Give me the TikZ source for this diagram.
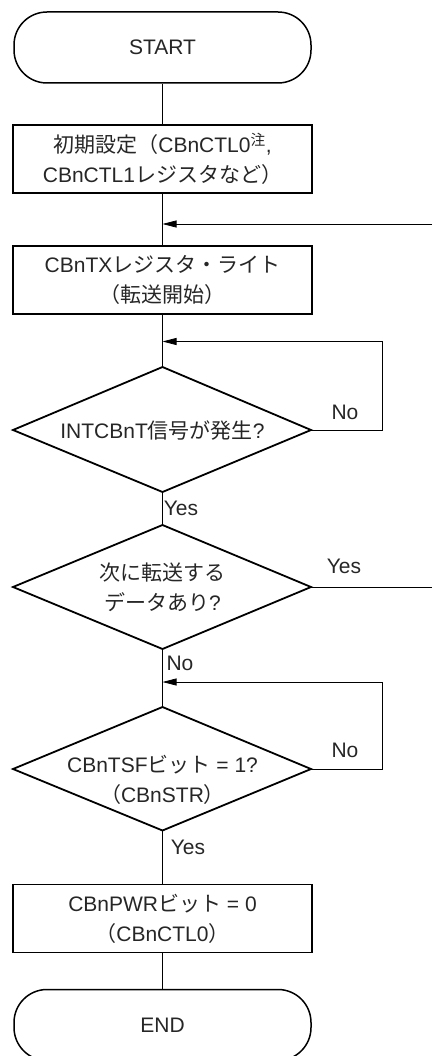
\documentclass[tikz,border=0pt]{standalone}
\usepackage{fontspec}
\setmainfont{Liberation Sans}
\newfontfamily\jp{Noto Sans CJK JP}
\usetikzlibrary{arrows.meta}
\begin{document}
\begin{tikzpicture}[x=1pt,y=-1pt,
  every node/.style={font=\fontsize{21}{30}\selectfont, text=black!85},
  term/.style={draw, line width=1.5pt, rounded corners=33pt, minimum width=297pt, minimum height=71pt, inner sep=0pt},
  proc/.style={draw, line width=1.5pt, minimum width=299pt, minimum height=68pt, align=center, inner sep=0pt},
  dia/.style={draw, line width=1.8pt, line join=miter},
  txt/.style={align=center, inner sep=0pt},
  lab/.style={inner sep=0pt},
  conn/.style={line width=0.8pt},
  arr/.style={conn, -{Triangle[length=14pt,width=7pt]}}]
\useasboundingbox (0,0) rectangle (432,1056);

% nodes
\node[term] (start) at (162.5,47.5) {START};
\node[proc] (init) at (162.5,159) {{\jp 初期設定}{\jp （}CBnCTL0\textsuperscript{\jp 注},\\CBnCTL1{\jp レジスタなど）}};
\coordinate (m1) at (162.5,224);
\coordinate (e1) at (432,224);
\node[proc] (tx) at (162.5,280) {CBnTX{\jp レジスタ・ライト}\\{\jp （転送開始）}};
\coordinate (m2) at (162.5,341.5);
\coordinate (r2) at (382,341.5);

% diamond 1
\coordinate (d1t) at (162.5,367);
\coordinate (d1r) at (311,430);
\coordinate (d1b) at (162.5,492);
\coordinate (d1l) at (13,430);
\draw[dia] (d1t) -- (d1r) -- (d1b) -- (d1l) -- cycle;
\node[txt] (d1txt) at (162.5,431) {INTCBnT{\jp 信号が発生}?};
\coordinate (r1) at (382,430);

% diamond 2
\coordinate (d2t) at (162.5,525);
\coordinate (d2r) at (311,587);
\coordinate (d2b) at (162.5,649);
\coordinate (d2l) at (13,587);
\draw[dia] (d2t) -- (d2r) -- (d2b) -- (d2l) -- cycle;
\node[txt] (d2txt) at (162.5,587.5) {{\jp 次に転送する}\\{\jp データあり}?};
\coordinate (e2) at (432,587);

\coordinate (m3) at (162.5,682);
\coordinate (r3) at (382,682);

% diamond 3
\coordinate (d3t) at (162.5,707);
\coordinate (d3r) at (311,769);
\coordinate (d3b) at (162.5,830.5);
\coordinate (d3l) at (13,769);
\draw[dia] (d3t) -- (d3r) -- (d3b) -- (d3l) -- cycle;
\node[txt] (d3txt) at (162.5,779.5) {CBnTSF{\jp ビット} = 1?\\{\jp （}CBnSTR{\jp ）}};
\coordinate (r4) at (382,769);

\node[proc] (pwr) at (162.5,918.5) {CBnPWR{\jp ビット} = 0\\{\jp （}CBnCTL0{\jp ）}};
\node[term] (end) at (162.5,1025) {END};

% connectors
\draw[conn] (start) -- (init);
\draw[conn] (init) -- (tx);
\draw[arr] (e1) -- (m1);
\draw[conn] (tx) -- (d1t);
\draw[arr] (d1r) -- (r1) -- (r2) -- (m2);
\draw[conn] (d1b) -- (d2t);
\draw[conn] (d2r) -- (e2);
\draw[conn] (d2b) -- (d3t);
\draw[arr] (d3r) -- (r4) -- (r3) -- (m3);
\draw[conn] (d3b) -- (pwr);
\draw[conn] (pwr) -- (end);

% labels
\node[lab] (l1) at (345,412) {No};
\node[lab] (l2) at (181,508) {Yes};
\node[lab] (l3) at (344,566) {Yes};
\node[lab] (l4) at (180,663) {No};
\node[lab] (l5) at (345,750) {No};
\node[lab] (l6) at (188,847) {Yes};
\end{tikzpicture}
\end{document}
